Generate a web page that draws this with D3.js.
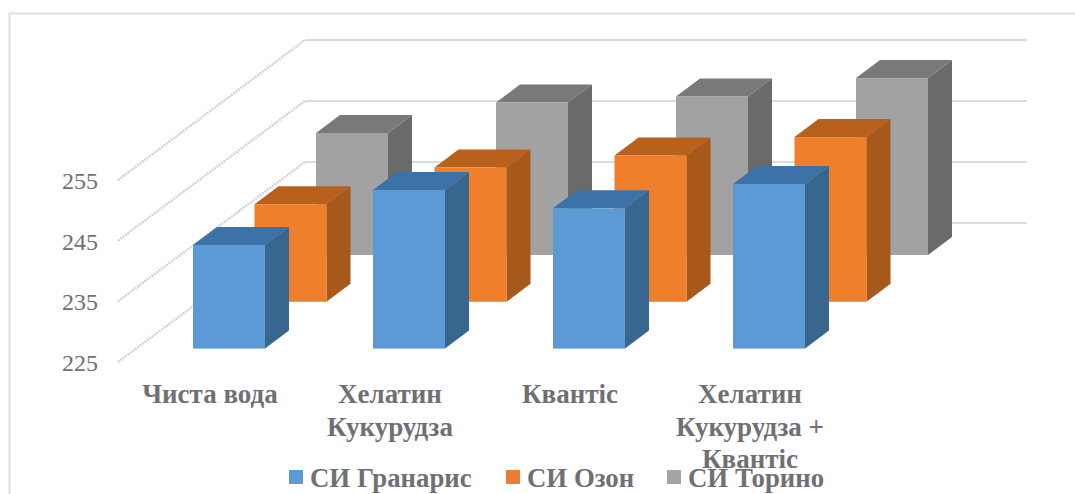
<!DOCTYPE html>
<html>
<head>
<meta charset="utf-8">
<script src="https://cdn.jsdelivr.net/npm/d3@7/dist/d3.min.js"></script>
<style>
  html, body { margin: 0; padding: 0; background: #fff; }
  svg { display: block; }
  text { font-family: "Liberation Serif", serif; fill: #6f7074; }
</style>
</head>
<body>
<svg id="chart" width="1075" height="494"></svg>
<script>
const categories = ["Чиста вода", "Хелатин Кукурудза", "Квантіс", "Хелатин Кукурудза + Квантіс"];
const categoryLines = [["Чиста вода"], ["Хелатин", "Кукурудза"], ["Квантіс"], ["Хелатин", "Кукурудза +", "Квантіс"]];
const seriesNames = ["СИ Гранарис", "СИ Озон", "СИ Торино"];
const granaris = [242, 251, 248, 252];
const ozon = [241, 247, 249, 252];
const torino = [245, 250, 251, 254];
const axisTicks = [225, 235, 245, 255];
const faceColors = ["#5b9ad5", "#f07f2b", "#a2a2a2"];
const topColors = ["#3c72a8", "#b9601c", "#797979"];
const sideColors = ["#37668f", "#a6591b", "#6a6a6a"];
const legendColors = ["#5b9bd5", "#ed7d31", "#a5a5a5"];

const svg = d3.select("#chart");

// Oblique projection: each series sits one step further back on the floor.
const barDepth = { dx: 24, dy: -18 };
const depthX = d3.scaleLinear().domain([0, 2]).range([0, 123]);
const depthY = d3.scaleLinear().domain([0, 2]).range([348.6, 255]);
const catX = d3.scaleBand().domain(categories).range([139, 859]).paddingInner(0.6).paddingOuter(0.3);
const heightOf = d3.scaleLinear().domain([225, 255]).range([0, 183]);
const wallFront = d3.scaleLinear().domain([225, 255]).range([362, 180]);
const wallBack = d3.scaleLinear().domain([225, 255]).range([223, 40]);

// Outer frame (open on the right side and bottom)
svg.append("path")
  .attr("d", "M9.5,494V13.5H1075")
  .attr("fill", "none").attr("stroke", "#e0e0e0").attr("stroke-width", 2);

// Side wall and back wall gridlines
const grid = svg.append("g");
grid.selectAll("line.wall").data(axisTicks).join("line")
  .attr("class", "wall")
  .attr("x1", 118).attr("x2", 305)
  .attr("y1", d => wallFront(d)).attr("y2", d => wallBack(d))
  .attr("stroke", "#d2d2d2").attr("stroke-width", 2.4).attr("stroke-dasharray", "2 1");
grid.selectAll("line.back").data(axisTicks).join("line")
  .attr("class", "back")
  .attr("x1", 305).attr("x2", 1027)
  .attr("y1", d => wallBack(d)).attr("y2", d => wallBack(d))
  .attr("stroke", "#dcdcdc").attr("stroke-width", 2);

// Value axis labels
svg.append("g").selectAll("text").data(axisTicks).join("text")
  .attr("x", 98).attr("y", d => wallFront(d) + 9)
  .attr("text-anchor", "end").attr("font-size", 24)
  .text(d => d);

// Bars, painted from the rear series forward
const seriesValues = [granaris, ozon, torino];
const poly = pts => "M" + pts.map(p => p.join(",")).join("L") + "Z";
[2, 1, 0].forEach(s => {
  const g = svg.append("g");
  const bars = g.selectAll("g").data(seriesValues[s].map((v, i) => ({ v, cat: categories[i] }))).join("g");
  const w = catX.bandwidth();
  const { dx, dy } = barDepth;
  const left = d => catX(d.cat) + depthX(s);
  const base = depthY(s);
  const top = d => base - heightOf(d.v);
  bars.append("path").attr("fill", sideColors[s])
    .attr("d", d => poly([[left(d) + w, top(d)], [left(d) + w + dx, top(d) + dy], [left(d) + w + dx, base + dy], [left(d) + w, base]]));
  bars.append("path").attr("fill", topColors[s])
    .attr("d", d => poly([[left(d), top(d)], [left(d) + dx, top(d) + dy], [left(d) + w + dx, top(d) + dy], [left(d) + w, top(d)]]));
  bars.append("rect").attr("fill", faceColors[s])
    .attr("x", left).attr("y", top).attr("width", w).attr("height", d => heightOf(d.v));
});

// Category labels, wrapped over several lines
const catLabels = svg.append("g").selectAll("text").data(categories).join("text")
  .attr("text-anchor", "middle").attr("font-size", 27).attr("font-weight", "bold");
catLabels.each(function (c, i) {
  d3.select(this).selectAll("tspan").data(categoryLines[i]).join("tspan")
    .attr("x", catX(c) + catX.bandwidth() / 2 - 19)
    .attr("y", (d, k) => 403 + k * 32.5)
    .text(d => d);
});

// Legend
const legendX = d3.scaleOrdinal().domain(seriesNames).range([289, 506, 667]);
const legend = svg.append("g").selectAll("g").data(seriesNames).join("g");
legend.append("rect")
  .attr("x", d => legendX(d)).attr("y", 470).attr("width", 14).attr("height", 14)
  .attr("fill", (d, i) => legendColors[i]);
legend.append("text")
  .attr("x", d => legendX(d) + 21).attr("y", 487)
  .attr("font-size", 26.8).attr("font-weight", "bold")
  .text(d => d);
</script>
</body>
</html>
